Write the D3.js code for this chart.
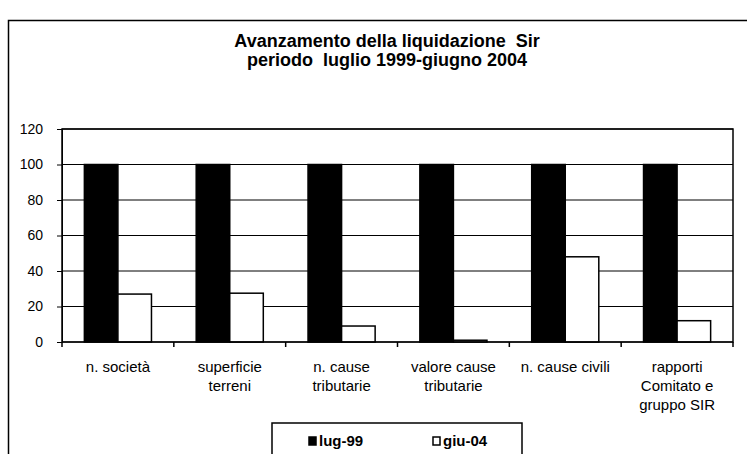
<!DOCTYPE html>
<html>
<head>
<meta charset="utf-8">
<script src="https://cdn.jsdelivr.net/npm/d3@7"></script>
<style>
    body { margin: 0; background: #fff; }
    svg { display: block; font-family: "Liberation Sans", Arial, sans-serif; }
    .axisBlack path, .axisBlack line { stroke: #000; }
    .axisBlack text { fill: #000; font-size: 14px; }
    .title { white-space: pre; }
</style>
</head>
<body>
<div id="chart"></div>
<script>
// dati
const categories = ['n. società', 'superficie terreni', 'n. cause tributarie', 'valore cause tributarie', 'n. cause civili', 'rapporti Comitato e gruppo SIR']
const categoryLines = [['n. società'], ['superficie', 'terreni'], ['n. cause', 'tributarie'], ['valore cause', 'tributarie'], ['n. cause civili'], ['rapporti', 'Comitato e', 'gruppo SIR']]
const seriesNames = ['lug-99', 'giu-04']
const lug99 = [100, 100, 100, 100, 100, 100]
const giu04 = [27, 27.5, 9, 1, 48, 12]
const yTicks = [0, 20, 40, 60, 80, 100, 120]
const titleLines = ['Avanzamento della liquidazione  Sir', 'periodo  luglio 1999-giugno 2004']

const width = 747, height = 454
const margin = ({top: 129, right: 14, bottom: 112, left: 62})

const svg = d3.select('#chart').append('svg')
    .attr('width', width)
    .attr('height', height)

// cornice esterna (lati destro e basso fuori dall'immagine)
svg.append('rect')
    .attr('x', 8.5).attr('y', 20.5)
    .attr('width', 760).attr('height', 460)
    .attr('fill', 'none')
    .attr('stroke', '#000')
    .attr('stroke-width', 1.5)

svg.append('g').selectAll('text')
    .data(titleLines)
    .join('text')
    .attr('class', 'title')
    .attr('x', 387)
    .attr('y', (d, i) => 41 + i * 18.5)
    .attr('dy', '0.35em')
    .attr('text-anchor', 'middle')
    .attr('font-size', 18)
    .attr('font-weight', 'bold')
    .text(d => d)

let xScale = d3.scaleBand()
    .domain(categories)
    .range([margin.left, width - margin.right])
    .paddingInner(0.4)
    .paddingOuter(0.2)
let xSub = d3.scaleBand()
    .domain(seriesNames)
    .range([0, xScale.bandwidth()])
let yScale = d3.scaleLinear()
    .domain([0, 120])
    .range([height - margin.bottom, margin.top])

// griglia
svg.append('g')
    .selectAll('line')
    .data(yTicks)
    .join('line')
    .attr('x1', margin.left)
    .attr('x2', width - margin.right)
    .attr('y1', d => yScale(d))
    .attr('y2', d => yScale(d))
    .attr('stroke', '#000')
    .attr('stroke-width', 1)

const groups = svg.append('g')
    .selectAll('g')
    .data(categories)
    .join('g')
    .attr('transform', d => `translate(${xScale(d)},0)`)

groups.append('rect')
    .attr('x', xSub('lug-99'))
    .attr('y', (d, i) => yScale(lug99[i]))
    .attr('width', xSub.bandwidth())
    .attr('height', (d, i) => yScale(0) - yScale(lug99[i]))
    .attr('fill', '#000')
    .attr('stroke', '#000')
    .attr('stroke-width', 1.5)

groups.append('rect')
    .attr('x', xSub('giu-04'))
    .attr('y', (d, i) => yScale(giu04[i]))
    .attr('width', xSub.bandwidth())
    .attr('height', (d, i) => yScale(0) - yScale(giu04[i]))
    .attr('fill', '#fff')
    .attr('stroke', '#000')
    .attr('stroke-width', 1.5)

// bordo area del grafico
svg.append('rect')
    .attr('x', margin.left)
    .attr('y', margin.top)
    .attr('width', width - margin.right - margin.left)
    .attr('height', height - margin.bottom - margin.top)
    .attr('fill', 'none')
    .attr('stroke', '#000')
    .attr('stroke-width', 1.5)

const yAxis = d3.axisLeft()
    .scale(yScale)
    .tickValues(yTicks)
    .tickSize(5)
    .tickPadding(14)
    .tickSizeOuter(0)
svg.append('g')
    .attr('class', 'axisBlack')
    .attr('transform', `translate(${margin.left},0)`)
    .call(yAxis)
    .call(g => g.selectAll('text').attr('font-family', null))

// tacche sull'asse x ai confini delle categorie
const step = xScale.step()
const boundaries = d3.range(categories.length + 1).map(i => margin.left + i * step)
svg.append('g')
    .selectAll('line')
    .data(boundaries)
    .join('line')
    .attr('x1', d => d).attr('x2', d => d)
    .attr('y1', yScale(0)).attr('y2', yScale(0) + 5)
    .attr('stroke', '#000')
    .attr('stroke-width', 1.5)

svg.append('g')
    .selectAll('text')
    .data(categories)
    .join('text')
    .attr('text-anchor', 'middle')
    .attr('font-size', 15)
    .attr('transform', d => `translate(${xScale(d) + xScale.bandwidth() / 2},${367})`)
    .selectAll('tspan')
    .data((d, i) => categoryLines[i])
    .join('tspan')
    .attr('x', 0)
    .attr('y', (d, i) => i * 19)
    .attr('dy', '0.35em')
    .text(d => d)

// legenda
const legend = svg.append('g')
legend.append('rect')
    .attr('x', 272).attr('y', 423)
    .attr('width', 250).attr('height', 60)
    .attr('fill', '#fff')
    .attr('stroke', '#000')
    .attr('stroke-width', 1.5)
const legendX = [309, 433]
const legendItems = legend.selectAll('g')
    .data(seriesNames)
    .join('g')
    .attr('transform', (d, i) => `translate(${legendX[i]},441)`)
legendItems.append('rect')
    .attr('x', 0).attr('y', -4)
    .attr('width', 7).attr('height', 8)
    .attr('fill', (d, i) => i === 0 ? '#000' : '#fff')
    .attr('stroke', '#000')
    .attr('stroke-width', 1.5)
legendItems.append('text')
    .attr('x', 10)
    .attr('dy', '0.35em')
    .attr('font-size', 15)
    .attr('font-weight', 'bold')
    .text(d => d)
</script>
</body>
</html>
